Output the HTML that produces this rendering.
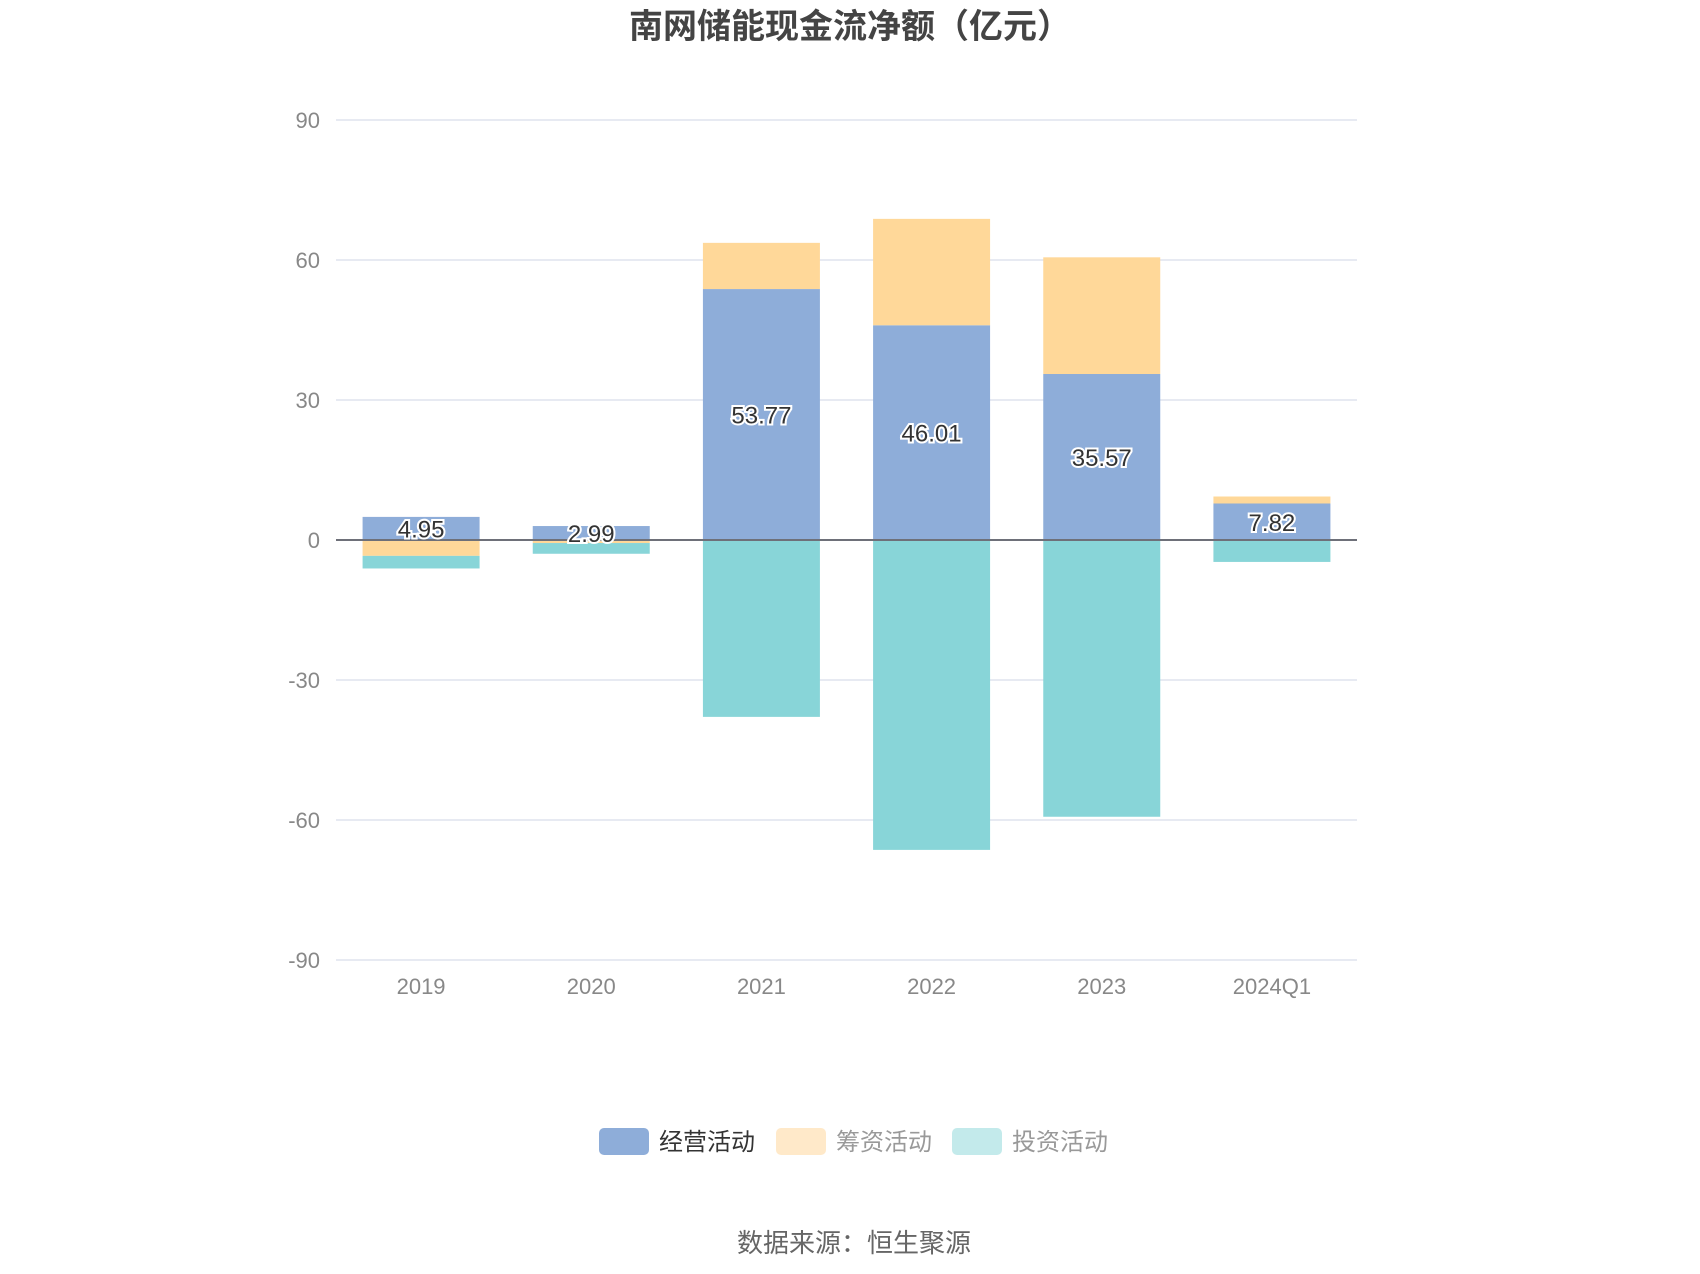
<!DOCTYPE html>
<html><head><meta charset="utf-8"><style>
body{margin:0;background:#fff;}
svg{display:block;font-family:"Liberation Sans","Noto Sans CJK SC",sans-serif;}
</style></head><body>
<svg id="c" width="1700" height="1274">
<text x="850" y="38" text-anchor="middle" font-size="34" font-weight="bold" fill="#444">南网储能现金流净额（亿元）</text>
<g id="grid"></g>
<g id="bars"></g>
<g id="labels"></g>
<g>
<g><rect x="599" y="1128" width="50" height="27" rx="5" fill="#8eadd9"/><text x="659" y="1150" font-size="24" fill="#333">经营活动</text></g>
<g><rect x="776" y="1128" width="50" height="27" rx="5" fill="#ffe9c9"/><text x="836" y="1150" font-size="24" fill="#999">筹资活动</text></g>
<g><rect x="952" y="1128" width="50" height="27" rx="5" fill="#c3eaeb"/><text x="1012" y="1150" font-size="24" fill="#999">投资活动</text></g>
</g>
<text x="854" y="1252" text-anchor="middle" font-size="26" fill="#666">数据来源：恒生聚源</text>
</svg>
<script>
const categories=["2019","2020","2021","2022","2023","2024Q1"];
const operating=[4.95,2.99,53.77,46.01,35.57,7.82];
const financing=[-3.4,-0.65,9.9,22.8,25.0,1.5];
const investing=[-2.7,-2.3,-37.9,-66.4,-59.3,-4.7];
const ticks=[90,60,30,0,-30,-60,-90];
const NS="http://www.w3.org/2000/svg";
const x0=336,x1=1357,yZero=540,pxPer=4.667;
const y=v=>yZero-v*pxPer;
const band=(x1-x0)/categories.length, bw=117;
function mk(tag,attrs,parent){const e=document.createElementNS(NS,tag);for(const k in attrs)e.setAttribute(k,attrs[k]);parent.appendChild(e);return e;}
const grid=document.getElementById('grid'),bars=document.getElementById('bars'),labels=document.getElementById('labels');
ticks.forEach(t=>{
 const l=mk('line',{x1:x0,x2:x1,y1:y(t),y2:y(t),stroke:'#dfe3ee','stroke-width':1.5},grid);
 
 
 const tx=mk('text',{x:320,y:y(t)+8,'text-anchor':'end','font-size':22,fill:'#888'},grid);
 tx.textContent=t;
 
 
});
categories.forEach((c,i)=>{
 const tx=mk('text',{x:x0+band*(i+0.5),y:994,'text-anchor':'middle','font-size':22,fill:'#888'},grid);
 tx.textContent=c;
 
 
});
const series=[[operating,'#8eadd9','operating'],[financing,'#ffd899','financing'],[investing,'#88d5d8','investing']];
categories.forEach((c,i)=>{
 let pos=0,neg=0;const cx=x0+band*(i+0.5);
 series.forEach(([arr,col,nm])=>{
  const v=arr[i];let a,b;
  if(v>=0){a=pos;b=pos+v;pos=b;}else{a=neg;b=neg+v;neg=b;}
  const top=Math.min(y(a),y(b)),h=Math.abs(y(a)-y(b));
  const r=mk('rect',{x:cx-bw/2,y:top,width:bw,height:h,fill:col},bars);
  
  
 });
});
mk('line',{x1:x0,x2:x1,y1:yZero,y2:yZero,stroke:'#6e7079','stroke-width':2},bars);
categories.forEach((c,i)=>{
 const t=mk('text',{x:x0+band*(i+0.5),y:y(operating[i]/2)+9,'text-anchor':'middle','font-size':24,fill:'#333',stroke:'#fff','stroke-width':4,'paint-order':'stroke'},labels);
 t.textContent=operating[i].toFixed(2);
 
 
});
</script>
</body></html>
